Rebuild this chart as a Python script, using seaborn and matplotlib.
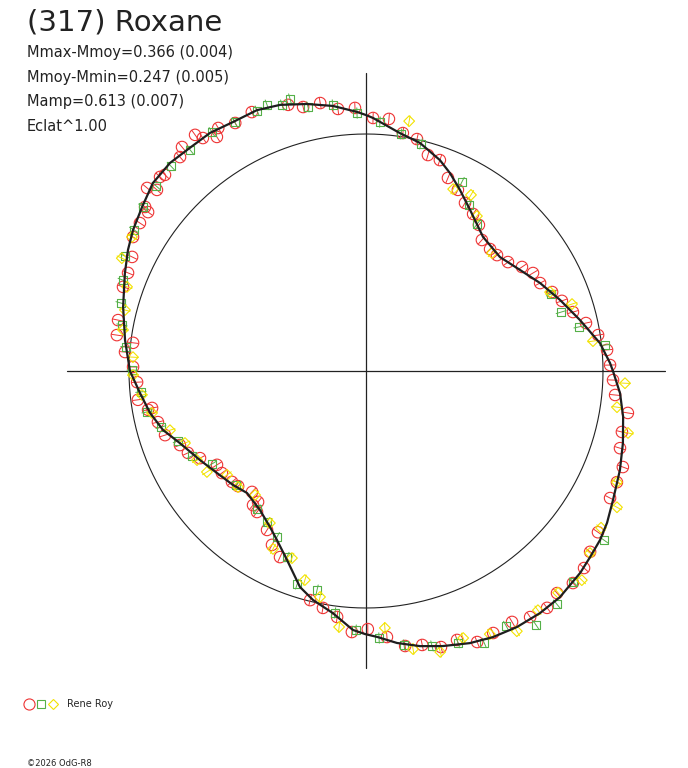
import numpy as np
import pandas as pd
import matplotlib
matplotlib.use("Agg")
import matplotlib.pyplot as plt
import seaborn as sns
from matplotlib.lines import Line2D
from matplotlib.legend_handler import HandlerTuple

# --- data: phase angle (deg) and radius (reference circle = 1) ---
fit_angle = [0, 1.9, 6.8, 13.4, 20.1, 26.8, 33.3, 40.4, 48.9, 57.1, 62.6, 67.0, 70.7,
             76.7, 81.9, 88.4, 90.0, 92.0, 97.1, 102.5, 107.9, 112.7, 118.1, 123.2,
             129.0, 133.3, 138.6, 143.8, 148.8, 153.0, 157.9, 165.2, 172.7, 180.0,
             185.6, 191.0, 196.2, 201.2, 208.2, 214.4, 220.6, 225.7, 232.7, 238.4,
             242.2, 247.3, 253.0, 257.0, 262.2, 267.1, 269.8, 272.4, 276.5, 281.1,
             285.6, 290.9, 295.5, 300.5, 305.7, 310.6, 316.7, 320.3, 324.2, 327.8,
             332.4, 338.7, 344.3, 349.9, 355.0, 360]
fit_r = [1.042, 1.030, 0.994, 0.928, 0.872, 0.823, 0.777, 0.742, 0.751, 0.809, 0.861,
         0.907, 0.943, 0.989, 1.014, 1.068, 1.080, 1.094, 1.127, 1.154, 1.180, 1.193,
         1.191, 1.201, 1.200, 1.206, 1.199, 1.171, 1.149, 1.127, 1.098, 1.060, 1.025,
         0.996, 0.958, 0.928, 0.892, 0.842, 0.795, 0.762, 0.739, 0.719, 0.738, 0.773,
         0.806, 0.864, 0.953, 0.992, 1.031, 1.094, 1.110, 1.123, 1.155, 1.183, 1.205,
         1.229, 1.244, 1.254, 1.258, 1.257, 1.242, 1.229, 1.218, 1.202, 1.176, 1.150,
         1.126, 1.102, 1.076, 1.042]

red_angle = [88.4, 84.8, 81.2, 77.6, 74.0, 70.7, 67.0, 63.1, 59.5, 55.7, 52.3, 48.5,
             44.5, 41.5, 37.5, 33.7, 30.4, 26.8, 23.0, 19.7, 15.9, 12.3, 8.8, 5.0, 1.4,
             357.9, 92.4, 96.1, 99.7, 103.4, 106.3, 113.8, 117.8, 121.3, 122.5, 125.0,
             125.9, 129.4, 131.0, 135.7, 136.7, 140.1, 139.1, 143.9, 143.4, 146.8, 150.1,
             154.0, 157.6, 160.9, 168.4, 171.8, 175.5, 173.1, 179.0, 182.8, 187.2, 190.1,
             189.8, 193.8, 197.7, 201.7, 204.7, 207.7, 212.2, 215.3, 219.6, 222.0, 226.7,
             229.9, 230.5, 232.3, 238.1, 241.6, 245.2, 256.3, 259.7, 263.3, 266.9, 270.4,
             354.5, 350.9, 346.6, 343.1, 339.5, 336.1, 332.5, 325.2, 321.1, 317.9, 314.3,
             310.7, 307.4, 303.7, 300.2, 295.9, 292.3, 288.7, 285.2, 281.6, 278.1, 274.5]
red_r = [1.068, 1.068, 1.016, 1.002, 0.948, 0.943, 0.885, 0.857, 0.823, 0.802, 0.779,
         0.738, 0.734, 0.738, 0.755, 0.791, 0.817, 0.823, 0.853, 0.878, 0.908, 0.950,
         0.991, 1.021, 1.030, 1.043, 1.111, 1.112, 1.147, 1.145, 1.170, 1.194, 1.183,
         1.200, 1.171, 1.200, 1.230, 1.223, 1.196, 1.185, 1.194, 1.204, 1.167, 1.138,
         1.161, 1.140, 1.134, 1.098, 1.086, 1.085, 1.068, 1.062, 1.020, 0.990, 0.983,
         0.967, 0.970, 0.934, 0.916, 0.904, 0.890, 0.845, 0.827, 0.791, 0.743, 0.745,
         0.734, 0.726, 0.701, 0.740, 0.716, 0.752, 0.790, 0.834, 0.865, 0.995, 1.016,
         1.045, 1.103, 1.089, 1.056, 1.119, 1.110, 1.120, 1.157, 1.158, 1.161, 1.192,
         1.215, 1.240, 1.250, 1.236, 1.258, 1.248, 1.225, 1.229, 1.236, 1.198, 1.207,
         1.180, 1.172, 1.126]

green_angle = [86.8, 81.6, 76.4, 63.1, 58.2, 52.9, 22.6, 16.8, 11.7, 6.2, 105.6, 102.4,
               97.1, 92.0, 107.5, 110.4, 112.7, 117.8, 122.8, 128.5, 133.6, 138.6, 143.7,
               148.7, 154.5, 159.5, 164.5, 169.3, 174.3, 179.8, 185.3, 190.6, 195.3,
               200.4, 206.0, 211.1, 221.2, 231.7, 236.7, 241.8, 247.0, 252.1, 257.4,
               262.7, 267.8, 324.6, 314.5, 309.3, 303.8, 298.8, 293.5, 288.7, 283.5,
               277.9, 272.8]
green_r = [1.052, 1.011, 0.986, 0.894, 0.824, 0.777, 0.846, 0.860, 0.918, 1.014, 1.192,
           1.141, 1.131, 1.089, 1.177, 1.198, 1.190, 1.187, 1.200, 1.192, 1.194, 1.181,
           1.168, 1.146, 1.127, 1.095, 1.073, 1.048, 1.018, 0.987, 0.954, 0.940, 0.897,
           0.846, 0.817, 0.759, 0.730, 0.742, 0.762, 0.795, 0.853, 0.945, 0.947, 1.029,
           1.094, 1.232, 1.247, 1.271, 1.290, 1.227, 1.251, 1.211, 1.193, 1.167, 1.128]

yellow_angle = [80.2, 64.4, 59.2, 54.4, 43.1, 23.2, 18.0, 7.5, 357.3, 150.2, 155.2,
                160.6, 165.8, 170.4, 176.6, 181.0, 186.1, 191.1, 196.8, 201.7, 207.8,
                212.4, 216.8, 222.2, 228.2, 237.7, 242.4, 248.4, 253.7, 258.5, 264.0,
                351.8, 346.7, 336.1, 331.5, 326.3, 320.9, 315.9, 310.9, 305.7, 300.1,
                295.2, 290.0, 284.8, 279.6, 274.2]
yellow_r = [1.070, 0.851, 0.865, 0.804, 0.728, 0.845, 0.914, 0.966, 1.094, 1.138, 1.135,
            1.069, 1.049, 1.040, 0.985, 0.983, 0.951, 0.920, 0.864, 0.822, 0.806, 0.795,
            0.732, 0.729, 0.702, 0.759, 0.847, 0.849, 0.919, 0.973, 1.086, 1.070, 1.136,
            1.158, 1.205, 1.192, 1.218, 1.268, 1.238, 1.243, 1.269, 1.227, 1.199, 1.226,
            1.190, 1.087]

title = "(317) Roxane"
info_lines = ["Mmax-Mmoy=0.366 (0.004)", "Mmoy-Mmin=0.247 (0.005)",
              "Mamp=0.613 (0.007)", "Eclat^1.00"]
observer = "Rene Roy"
credit = "\u00a92026 OdG-R8"

RED, GREEN, YELLOW = "#ee3333", "#55b048", "#f2e200"
ERR = 0.022  # half length of the small radial error ticks


def to_xy(angle, r):
    a = np.radians(np.asarray(angle))
    r = np.asarray(r)
    return r * np.cos(a), r * np.sin(a)


sns.set_style("white")
plt.rcParams["font.family"] = ["DejaVu Sans"]

W, H = 688, 768
fig = plt.figure(figsize=(W / 100, H / 100), dpi=100)
# 237 px per unit, plot centre at (366, 371) px
unit = 237.0
half = 300
ax = fig.add_axes([(366 - half) / W, 1 - (371 + half) / H, 2 * half / W, 2 * half / H])
lim = half / unit
ax.set_xlim(-lim, lim)
ax.set_ylim(-lim, lim)
ax.axis("off")

# axes cross and reference circle
ax.plot([-1.262, 1.262], [0, 0], color="#222222", lw=0.9, zorder=1)
ax.plot([0, 0], [-1.253, 1.257], color="#222222", lw=0.9, zorder=1)
circ = np.linspace(0, 2 * np.pi, 361)
ax.plot(np.cos(circ), np.sin(circ), color="#222222", lw=0.8, zorder=1)

series = [
    (red_angle, red_r, RED, "o", 68),
    (green_angle, green_r, GREEN, "s", 36),
    (yellow_angle, yellow_r, YELLOW, "D", 30),
]
for ang, rr, col, mk, size in series:
    df = pd.DataFrame({"angle": ang, "r": rr})
    df["x"], df["y"] = to_xy(df["angle"], df["r"])
    sns.scatterplot(data=df, x="x", y="y", marker=mk, s=size, facecolor="none",
                    edgecolor=col, linewidth=0.8, ax=ax, zorder=2, clip_on=False)
    x0, y0 = to_xy(df["angle"], df["r"] - ERR)
    x1, y1 = to_xy(df["angle"], df["r"] + ERR)
    ax.plot(np.vstack([x0, x1]), np.vstack([y0, y1]), color=col, lw=0.7, zorder=2)

fx, fy = to_xy(fit_angle, fit_r)
ax.plot(fx, fy, color="#1e1e1e", lw=1.6, zorder=4)
ax.set_xlabel("")
ax.set_ylabel("")

# header texts
fig.text(27 / W, 1 - 30 / H, title, fontsize=21, color="#222222", va="baseline")
for i, line in enumerate(info_lines):
    fig.text(27 / W, 1 - (57 + 24.7 * i) / H, line, fontsize=10.5, color="#222222",
             va="baseline")

# observer legend: three symbols then the name
handles = (
    Line2D([], [], ls="none", marker="o", ms=8, mfc="none", mec=RED, mew=0.8),
    Line2D([], [], ls="none", marker="s", ms=6, mfc="none", mec=GREEN, mew=0.8),
    Line2D([], [], ls="none", marker="D", ms=5.5, mfc="none", mec=YELLOW, mew=0.8),
)
fig.legend([handles], [observer], handler_map={tuple: HandlerTuple(ndivide=None, pad=0.3)},
           loc="center left", bbox_to_anchor=(24 / W, 1 - 704 / H), frameon=False,
           fontsize=7, handlelength=3.4, handletextpad=1.0, borderpad=0, borderaxespad=0)

fig.text(27 / W, 1 - 766 / H, credit, fontsize=6, color="#222222", va="baseline")

fig.savefig("out.png", dpi=100, facecolor="white")
